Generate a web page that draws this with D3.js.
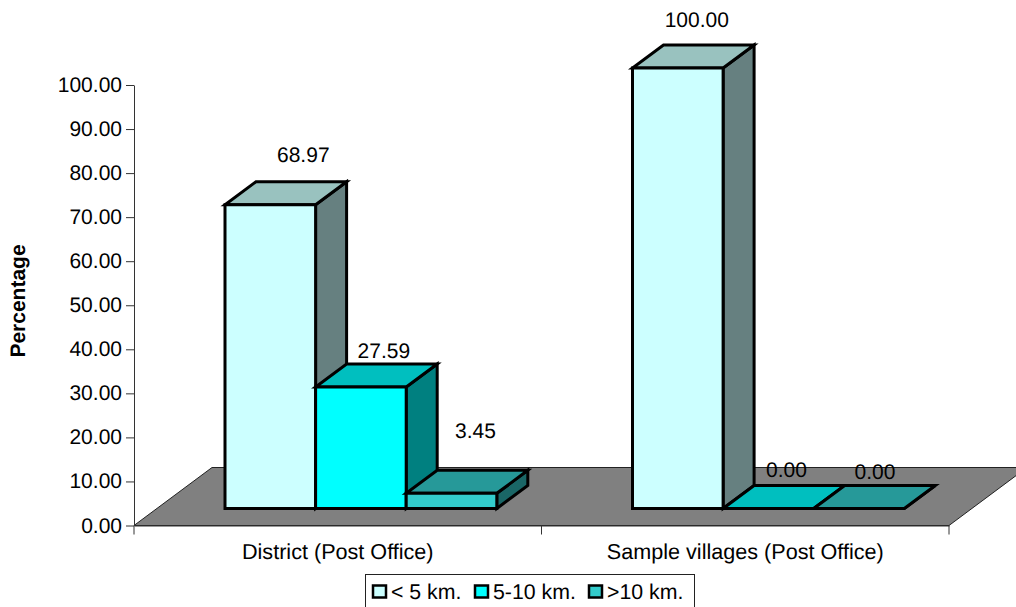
<!DOCTYPE html>
<html>
<head>
<meta charset="utf-8">
<script src="https://cdn.jsdelivr.net/npm/d3@7"></script>
<style>
html, body { margin: 0; padding: 0; background: #fff; }
svg { display: block; }
text { font-family: "Liberation Sans", Arial, sans-serif; fill: #000; text-rendering: geometricPrecision; }
</style>
</head>
<body>
<div id="chart"></div>
<script>
// Distance to post office, share of respondents per distance band
const categories = ["District (Post Office)", "Sample villages (Post Office)"];
const seriesNames = ["< 5 km.", "5-10 km.", ">10 km."];
const under5 = [68.97, 100.00];
const from5to10 = [27.59, 0.00];
const over10 = [3.45, 0.00];
const yTicks = [0, 10, 20, 30, 40, 50, 60, 70, 80, 90, 100];
const seriesValues = [under5, from5to10, over10];

// Face colours per series: front, top, side
const faces = [
  { front: "#CCFFFF", top: "#99C2BF", side: "#668080" },
  { front: "#00FFFF", top: "#00BFBF", side: "#008080" },
  { front: "#33CCCC", top: "#269999", side: "#1A6666" }
];

// Hand-placed value label offsets from each bar's front-top centre [series][category]
const labelShift = [
  [[33, -50], [19, -48]],
  [[23, -36], [18, -39]],
  [[24, -63], [16, -37]]
];

const width = 1016, height = 607;
const svg = d3.select("#chart").append("svg").attr("width", width).attr("height", height);

const axisLeft = 134, axisRight = 949, axisBase = 525.5, axisTop = 85;
const y = d3.scaleLinear().domain([0, 100]).range([axisBase, axisTop]);
const x0 = d3.scaleBand().domain(categories).range([axisLeft, axisRight]);
const barWidth = 90.6;
const groupInset = 91;
const x1 = d3.scaleBand().domain(d3.range(seriesNames.length))
  .range([groupInset, groupInset + barWidth * seriesNames.length]);

// Oblique projection used for the bars and for the floor
const depth = { dx: 31, dy: -23 };
const floorDepth = { dx: 78, dy: -58 };
const barLift = 17;

const poly = pts => pts.map(p => p.join(",")).join(" ");

// Floor
svg.append("polygon")
  .attr("points", poly([
    [axisLeft, axisBase],
    [axisRight, axisBase],
    [axisRight + floorDepth.dx, axisBase + floorDepth.dy],
    [axisLeft + floorDepth.dx, axisBase + floorDepth.dy]
  ]))
  .attr("fill", "#808080")
  .attr("stroke", "#222")
  .attr("stroke-width", 1);

// Axes
const fontSize = 21;
const yAxis = svg.append("g")
  .attr("transform", `translate(${axisLeft},0)`)
  .call(d3.axisLeft(y).tickValues(yTicks).tickFormat(d3.format(".2f")).tickSize(8).tickSizeOuter(0).tickPadding(4));
const xAxis = svg.append("g")
  .attr("transform", `translate(0,${axisBase})`)
  .call(d3.axisBottom(x0).tickSize(0).tickPadding(18));
[yAxis, xAxis].forEach(g => {
  g.selectAll("text").style("font-family", '"Liberation Sans", Arial, sans-serif');
  g.selectAll("path, line").attr("stroke", "#333").attr("stroke-width", 1);
});
yAxis.selectAll("text").style("font-size", fontSize + "px").attr("dy", "0.31em");
xAxis.selectAll("text").style("font-size", "21.6px").attr("dy", "0.71em");

// Category boundary ticks along the floor's front edge
svg.append("g").selectAll("line")
  .data([axisLeft, ...categories.map(c => x0(c) + x0.bandwidth())])
  .join("line")
  .attr("x1", d => d).attr("x2", d => d)
  .attr("y1", axisBase).attr("y2", axisBase + 9)
  .attr("stroke", "#333");

// Bars: side, top, then front of each box
const bars = svg.append("g")
  .attr("stroke", "#000")
  .attr("stroke-width", 3)
  .attr("stroke-linejoin", "miter");

const cells = [];
seriesValues.forEach((vals, s) => vals.forEach((v, c) => cells.push({ s, c, v })));

cells.sort((a, b) => a.c - b.c || a.s - b.s).forEach(d => {
  const left = x0(categories[d.c]) + x1(d.s);
  const right = left + x1.bandwidth();
  const base = axisBase - barLift;
  const top = base - (axisBase - y(d.v));
  const f = faces[d.s];
  const g = bars.append("g");
  g.append("polygon").attr("fill", f.side).attr("points", poly([
    [right, base], [right + depth.dx, base + depth.dy],
    [right + depth.dx, top + depth.dy], [right, top]
  ]));
  g.append("polygon").attr("fill", f.top).attr("points", poly([
    [left, top], [right, top],
    [right + depth.dx, top + depth.dy], [left + depth.dx, top + depth.dy]
  ]));
  g.append("polygon").attr("fill", f.front).attr("points", poly([
    [left, base], [right, base], [right, top], [left, top]
  ]));
});

// Value labels
svg.append("g").selectAll("text")
  .data(cells)
  .join("text")
  .attr("text-anchor", "middle")
  .attr("dy", "0.35em")
  .style("font-size", fontSize + "px")
  .attr("x", d => x0(categories[d.c]) + x1(d.s) + x1.bandwidth() / 2 + labelShift[d.s][d.c][0])
  .attr("y", d => axisBase - barLift - (axisBase - y(d.v)) + labelShift[d.s][d.c][1])
  .text(d => d3.format(".2f")(d.v));

// Y axis title
svg.append("text")
  .attr("transform", "translate(25,301) rotate(-90)")
  .attr("text-anchor", "middle")
  .style("font-size", "21px")
  .style("font-weight", "bold")
  .text("Percentage");

// Legend
const legend = svg.append("g");
legend.append("rect")
  .attr("x", 365.5).attr("y", 574.5).attr("width", 329).attr("height", 40)
  .attr("fill", "#fff").attr("stroke", "#222").attr("stroke-width", 1);
const legendX = d3.scaleOrdinal().domain(seriesNames).range([372, 474, 588]);
seriesNames.forEach((name, i) => {
  legend.append("rect")
    .attr("x", legendX(name) + 1).attr("y", 585.5).attr("width", 13).attr("height", 12)
    .attr("fill", faces[i].front).attr("stroke", "#000").attr("stroke-width", 2.5);
  legend.append("text")
    .attr("x", legendX(name) + 19).attr("y", 599)
    .style("font-size", "21.3px")
    .text(name);
});
</script>
</body>
</html>
